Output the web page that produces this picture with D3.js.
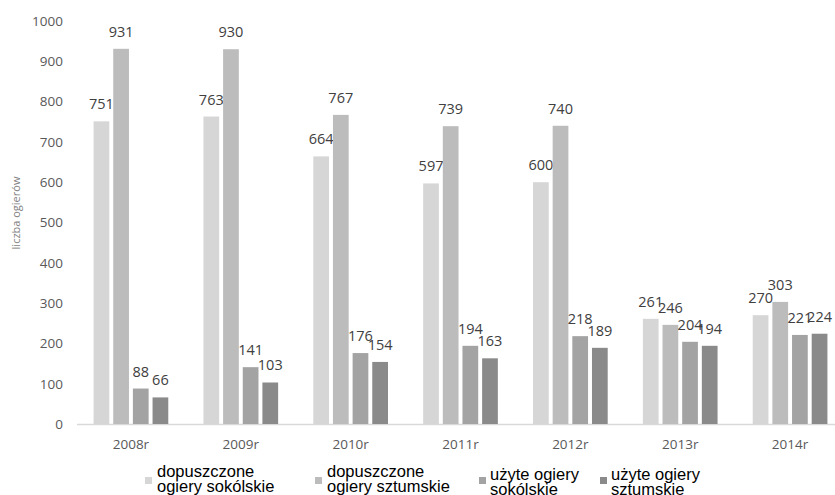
<!DOCTYPE html>
<html>
<head>
<meta charset="utf-8">
<script src="https://cdn.jsdelivr.net/npm/d3@7"></script>
<style>
  body { margin: 0; background: #fff; }
  svg { display: block; font-family: "Open Sans", sans-serif; }
</style>
</head>
<body>
<div id="chart"></div>
<script>
// data
const years = ["2008r", "2009r", "2010r", "2011r", "2012r", "2013r", "2014r"];
const seriesNames = [
    ["dopuszczone", "ogiery sokólskie"],
    ["dopuszczone", "ogiery sztumskie"],
    ["użyte ogiery", "sokólskie"],
    ["użyte ogiery", "sztumskie"]
];
const dopSokolskie = [751, 763, 664, 597, 600, 261, 270];
const dopSztumskie = [931, 930, 767, 739, 740, 246, 303];
const uzSokolskie = [88, 141, 176, 194, 218, 204, 221];
const uzSztumskie = [66, 103, 154, 163, 189, 194, 224];
const yTicks = [0, 100, 200, 300, 400, 500, 600, 700, 800, 900, 1000];

const series = [dopSokolskie, dopSztumskie, uzSokolskie, uzSztumskie];
const colors = ["#d6d6d6", "#bcbcbc", "#a3a3a3", "#8a8a8a"];

const width = 835, height = 495;
const svg = d3.select("#chart").append("svg")
    .attr("width", width)
    .attr("height", height);

// scales
const x0 = d3.scaleBand()
    .domain(years)
    .range([76, 845])
    .paddingInner(0.32)
    .paddingOuter(0.16);

const x1 = d3.scaleBand()
    .domain(d3.range(series.length))
    .range([0, x0.bandwidth()])
    .paddingInner(0.2);

const y = d3.scaleLinear()
    .domain([0, 1000])
    .range([424, 21]);

// y axis labels only
const yAxis = d3.axisLeft(y).tickValues(yTicks).tickFormat(d3.format("d"))
    .tickSize(0).tickPadding(0);
const gy = svg.append("g")
    .attr("transform", "translate(63,0)")
    .call(yAxis);
gy.select(".domain").remove();
gy.selectAll("text")
    .attr("fill", "#595959")
    .attr("font-size", 13.5)
    .attr("font-family", "Open Sans, sans-serif");

// x axis
const xAxis = d3.axisBottom(x0).tickSize(0).tickPadding(15);
const gx = svg.append("g")
    .attr("transform", "translate(0,424)")
    .call(xAxis);
gx.select(".domain")
    .attr("stroke", "#d9d9d9")
    .attr("stroke-width", 1.5)
    .attr("d", "M77,0.5H835");
gx.selectAll("text")
    .attr("fill", "#595959")
    .attr("font-size", 13.5)
    .attr("font-family", "Open Sans, sans-serif");

// axis title
svg.append("text")
    .attr("transform", "translate(20,213) rotate(-90)")
    .attr("text-anchor", "middle")
    .attr("fill", "#7f7f7f")
    .attr("font-size", 11)
    .text("liczba ogierów");

// bars
const groups = svg.append("g").selectAll("g")
    .data(years)
    .join("g")
    .attr("transform", d => "translate(" + x0(d) + ",0)");

series.forEach((vals, s) => {
    groups.append("rect")
        .attr("x", x1(s))
        .attr("y", (d, i) => y(vals[i]))
        .attr("width", x1.bandwidth())
        .attr("height", (d, i) => y(0) - y(vals[i]))
        .attr("fill", colors[s]);

    groups.append("text")
        .attr("x", x1(s) + x1.bandwidth() / 2)
        .attr("y", (d, i) => y(vals[i]) - 12)
        .attr("text-anchor", "middle")
        .attr("fill", "#404040")
        .attr("font-size", 14.5)
        .text((d, i) => vals[i]);
});

// legend
const legendX = [145, 315, 479, 600];
const legend = svg.append("g")
    .attr("font-family", "Liberation Sans, Arial, sans-serif");
seriesNames.forEach((lines, s) => {
    const g = legend.append("g").attr("transform", "translate(" + legendX[s] + ",0)");
    g.append("rect")
        .attr("x", 0)
        .attr("y", 477)
        .attr("width", 7)
        .attr("height", 7)
        .attr("fill", colors[s]);
    lines.forEach((t, k) => {
        g.append("text")
            .attr("x", s < 2 ? 12 : 11)
            .attr("y", (s < 2 ? 477 : 480) + k * 15)
            .attr("fill", "#000")
            .attr("font-size", 16.5)
            .text(t);
    });
});
</script>
</body>
</html>
